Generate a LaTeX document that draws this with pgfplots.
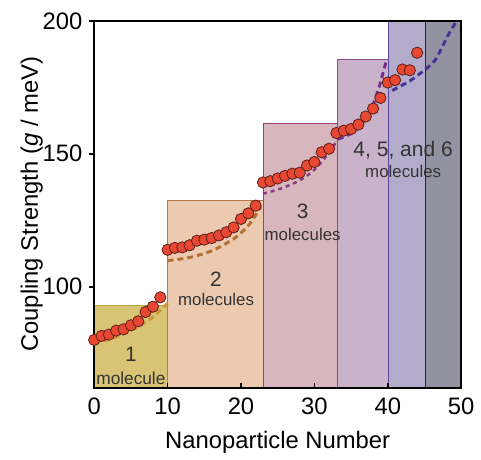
\documentclass[border=0pt]{standalone}
\usepackage{pgfplots}
\pgfplotsset{compat=1.18}
\usepackage{fontspec}
\setmainfont{Liberation Sans}

\definecolor{yfill}{RGB}{216,196,116}
\definecolor{ydraw}{RGB}{185,160,65}
\definecolor{tfill}{RGB}{236,202,176}
\definecolor{tdraw}{RGB}{185,120,70}
\definecolor{pfill}{RGB}{216,182,189}
\definecolor{pdraw}{RGB}{160,62,112}
\definecolor{mfill}{RGB}{201,179,202}
\definecolor{mdraw}{RGB}{150,70,150}
\definecolor{lfill}{RGB}{178,172,202}
\definecolor{ldraw}{RGB}{90,72,160}
\definecolor{gfill}{RGB}{146,146,160}
\definecolor{gdraw}{RGB}{40,40,55}
\definecolor{dotred}{RGB}{232,72,50}
\definecolor{dotedge}{RGB}{90,30,25}
\definecolor{dashA}{RGB}{205,150,55}
\definecolor{dashB}{RGB}{180,112,50}
\definecolor{dashC}{RGB}{140,60,130}
\definecolor{dashD}{RGB}{120,45,140}
\definecolor{dashE}{RGB}{72,50,150}

\begin{document}
\begin{tikzpicture}
\begin{axis}[
    scale only axis,
    width=185pt, height=185pt,
    xmin=0, xmax=50, ymin=62, ymax=200,
    xtick={0,10,...,50},
    ytick={100,150,200},
    xtick pos=bottom, ytick pos=left,
    xtick align=inside, ytick align=outside,
    major tick length=2.5pt,
    tick style={black, line width=0.8pt},
    axis line style={black, line width=0.8pt},
    axis on top,
    font=\fontsize{12}{14}\selectfont,
    /pgf/number format/assume math mode=true,
    xticklabel style={yshift=-1.5pt},
    xlabel={Nanoparticle Number},
    ylabel={Coupling Strength (\textit{g} / meV)},
    xlabel style={yshift=-1.5pt},
    ylabel style={yshift=-7pt},
]
% shaded regions
\addplot[fill=yfill, draw=ydraw, line width=0.6pt] coordinates {(0,62) (0,93) (10,93) (10,62)} -- cycle;
\addplot[fill=tfill, draw=tdraw, line width=0.6pt] coordinates {(10,62) (10,132.5) (23.1,132.5) (23.1,62)} -- cycle;
\addplot[fill=pfill, draw=pdraw, line width=0.6pt] coordinates {(23.1,62) (23.1,161.5) (33.2,161.5) (33.2,62)} -- cycle;
\addplot[fill=mfill, draw=mdraw, line width=0.6pt] coordinates {(33.2,62) (33.2,185.5) (40.1,185.5) (40.1,62)} -- cycle;
\addplot[fill=lfill, draw=ldraw, line width=0.6pt] coordinates {(40.1,62) (40.1,200) (45.1,200) (45.1,62)} -- cycle;
\addplot[fill=gfill, draw=gdraw, line width=0.6pt] coordinates {(45.1,62) (45.1,200) (50,200) (50,62)} -- cycle;

% fitted curves
\addplot[dashA, line width=1.5pt, dash pattern=on 3pt off 2pt, smooth] coordinates {
(0,78.8) (2,80.2) (4,82.3) (6,85) (8,88.6) (10,93.8)};
\addplot[dashB, line width=1.5pt, dash pattern=on 3pt off 2pt, smooth] coordinates {
(10,109.8) (13,111) (16,113.5) (19,118) (21,123) (22.7,130)};
\addplot[dashC, line width=1.3pt, dash pattern=on 2pt off 2pt, smooth] coordinates {
(23,135) (25.5,137) (28,140) (30,144) (32,150.5) (33.2,155.5)};
\addplot[dashD, line width=1.5pt, dash pattern=on 3pt off 2pt, smooth] coordinates {
(33.2,155.5) (35.5,158.5) (37.5,165.5) (38.7,174) (39.8,185)};
\addplot[dashE, line width=1.5pt, dash pattern=on 3pt off 2pt, smooth] coordinates {
(40.6,173.8) (43,177.4) (45,181.5) (46.4,185) (47.3,189.5) (48.3,195) (49.4,200)};

% measured coupling strengths
\addplot[only marks, mark=*, mark size=2.85pt,
    mark options={fill=dotred, draw=dotedge, line width=0.4pt}] table {
x y
0 80
1 81.5
2 82
3 83.5
4 84
5 85.5
6 87
7 90.5
8 92.5
9 96
10 113.9
11 114.6
12 114.8
13 115.6
14 117.3
15 117.7
16 118.3
17 119.3
18 120.5
19 122.3
20 125.5
21 127.6
22 130.5
23 139.2
24 139.7
25 140.7
26 141.7
27 142.5
28 142.9
29 145.6
30 146.9
31 150.6
32 151.9
33 157.8
34 158.7
35 159.3
36 161
37 164
38 167
39 171
40 176.8
41 177.7
42 181.7
43 181.4
44 188
};

% region labels
\node[font=\fontsize{10.5}{12}\selectfont, text=black!80] at (axis cs:5,74.5) {1};
\node[font=\fontsize{8.7}{10}\selectfont, text=black!80] at (axis cs:5,65.6) {molecule};
\node[font=\fontsize{10.5}{12}\selectfont, text=black!80] at (axis cs:16.6,103) {2};
\node[font=\fontsize{8.5}{10}\selectfont, text=black!80] at (axis cs:16.6,95.3) {molecules};
\node[font=\fontsize{10.5}{12}\selectfont, text=black!80] at (axis cs:28.4,128.5) {3};
\node[font=\fontsize{8.5}{10}\selectfont, text=black!80] at (axis cs:28.4,119.8) {molecules};
\node[font=\fontsize{10.6}{12}\selectfont, text=black!80] at (axis cs:42.1,151.3) {4, 5, and 6};
\node[font=\fontsize{8.5}{10}\selectfont, text=black!80] at (axis cs:42.1,143.3) {molecules};
\end{axis}
\path[use as bounding box] (-47.5pt,-35pt) rectangle (193pt,195.5pt);
\end{tikzpicture}
\end{document}
